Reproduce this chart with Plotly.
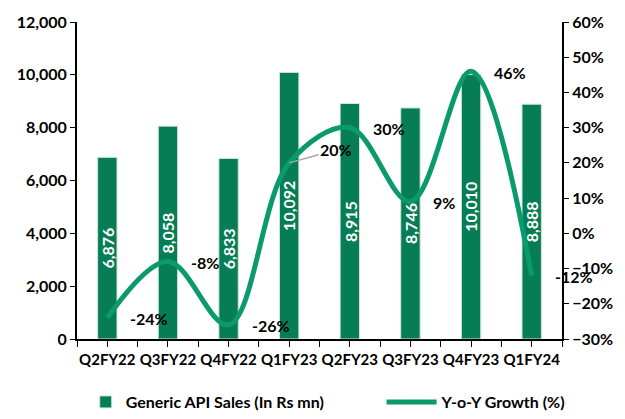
import plotly.graph_objects as go

quarters = ["Q2FY22", "Q3FY22", "Q4FY22", "Q1FY23", "Q2FY23", "Q3FY23", "Q4FY23", "Q1FY24"]
sales = [6876, 8058, 6833, 10092, 8915, 8746, 10010, 8888]
growth = [-24, -8, -26, 20, 30, 9, 46, -12]

BAR = "#077d55"
LINE = "#0b9a6c"
FONT = "Lato"

xs = list(range(len(quarters)))

fig = go.Figure()
fig.add_trace(go.Bar(
    x=xs, y=sales, name="Generic API Sales (In Rs mn)",
    marker=dict(color=BAR, line=dict(color="#cfe6da", width=1)),
    width=0.32, yaxis="y", legend="legend",
))
fig.add_trace(go.Scatter(
    x=xs, y=growth, name="Y-o-Y Growth (%)", mode="lines",
    line=dict(color=LINE, width=5, shape="spline", smoothing=1.0),
    yaxis="y2", legend="legend2",
))

# bar value labels (centered, rotated)
for i, v in enumerate(sales):
    fig.add_annotation(x=xs[i], y=v / 2, yref="y", text=f"{v:,}", showarrow=False,
                       textangle=-90, font=dict(size=16, family=FONT, color="white"))

for i, g in enumerate(growth):
    if i == 3:
        fig.add_annotation(x=xs[i], y=g, yref="y2", text=f"{g}%", showarrow=True,
                           arrowhead=0, arrowcolor="#a6a6a6", arrowwidth=1.5,
                           ax=47, ay=-13, xanchor="center",
                           font=dict(size=16, family=FONT, color="black", weight="bold"))
    else:
        fig.add_annotation(x=xs[i], y=g, yref="y2", text=f"{g}%", showarrow=False,
                           xanchor="left", xshift=21, yshift=-1,
                           font=dict(size=16, family=FONT, color="black", weight="bold"))

tickvals = [v / 2 for v in range(-1, 2 * len(quarters))]
ticktext = [quarters[int(v)] if float(v).is_integer() and v >= 0 else "" for v in tickvals]

leg_common = dict(orientation="h", xanchor="left", yref="container", y=-0.012,
                  yanchor="bottom", font=dict(size=16, family=FONT, weight="bold"),
                  bgcolor="rgba(0,0,0,0)")

fig.update_layout(
    width=625, height=419,
    margin=dict(l=77, r=56, t=21, b=80),
    paper_bgcolor="white", plot_bgcolor="white",
    font=dict(family=FONT, size=16, color="black", weight="bold"),
    showlegend=True,
    legend=dict(x=0.018, **leg_common),
    legend2=dict(x=0.628, itemwidth=50, **leg_common),
    xaxis=dict(range=[-0.5, len(quarters) - 0.5], tickmode="array", tickvals=tickvals,
               ticktext=ticktext, ticks="outside", ticklen=6, tickcolor="black",
               tickangle=0, showline=True, linecolor="black", linewidth=2, showgrid=False,
               zeroline=False, tickfont=dict(size=15, weight="bold")),
    yaxis=dict(range=[0, 12000], dtick=2000, tickformat=",", ticks="outside", ticklen=5,
               tickcolor="black", showline=True, linecolor="black", linewidth=2,
               showgrid=False, zeroline=False, tickfont=dict(size=16, weight="bold")),
    yaxis2=dict(range=[-30, 60], dtick=10, ticksuffix="%", overlaying="y", side="right",
                ticks="outside", ticklen=5, tickcolor="black", showline=True,
                linecolor="black", linewidth=2, showgrid=False, zeroline=False,
                tickfont=dict(size=16, weight="bold")),
)

fig.write_html("out.html")
